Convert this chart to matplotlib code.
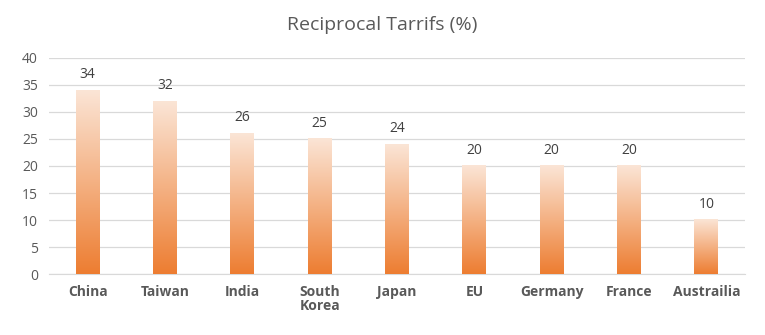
#!/usr/bin/env python3
"""Reciprocal tariffs bar chart with gradient bars."""

import matplotlib

matplotlib.use("Agg")
import matplotlib.pyplot as plt
import numpy as np
from matplotlib.colors import LinearSegmentedColormap

countries = ["China", "Taiwan", "India", "South\nKorea", "Japan", "EU", "Germany", "France", "Austrailia"]
tariffs = [34, 32, 26, 25, 24, 20, 20, 20, 10]
y_ticks = [0, 5, 10, 15, 20, 25, 30, 35, 40]

plt.rcParams["font.family"] = ["Open Sans", "DejaVu Sans"]
text_color = "#595959"
grad = LinearSegmentedColormap.from_list("orange_grad", ["#ED7D31", "#F4B183", "#FBE5D6"])

fig = plt.figure(figsize=(7.65, 3.35), dpi=100)
ax = fig.add_axes([0.064, 0.182, 0.91, 0.645])

x = np.arange(len(countries))
width = 0.31
bars = ax.bar(x, tariffs, width=width, color="none", edgecolor="none", zorder=3)

# each bar gets its own vertical gradient, dark at the base
g = np.linspace(0, 1, 256).reshape(-1, 1)
for bar in bars:
    bx, by = bar.get_x(), bar.get_y()
    bw, bh = bar.get_width(), bar.get_height()
    ax.imshow(g, cmap=grad, origin="lower", aspect="auto", interpolation="bilinear",
              extent=(bx, bx + bw, by, by + bh), zorder=5)
    ax.text(bx + bw / 2, by + bh + 1.5, f"{int(bh)}", ha="center", va="bottom",
            fontsize=10, color="#404040")

ax.set_xlim(-0.5, len(countries) - 0.5)
ax.set_ylim(0, 40)
ax.set_yticks(y_ticks)
ax.set_xticks(x)
ax.set_xticklabels(countries, fontsize=10, fontweight="bold", color=text_color, linespacing=1.0)
ax.tick_params(axis="y", labelsize=10, labelcolor=text_color, length=0, pad=8)
ax.tick_params(axis="x", length=0, pad=8)
ax.grid(axis="y", color="#D9D9D9", linewidth=0.9)
for line in ax.get_ygridlines():
    line.set_zorder(1)
for side in ["top", "right", "left"]:
    ax.spines[side].set_visible(False)
ax.spines["bottom"].set_color("#D9D9D9")
ax.spines["bottom"].set_zorder(1)

fig.text(0.5, 0.925, "Reciprocal Tarrifs (%)", ha="center", va="center",
         fontsize=14, color=text_color)

fig.savefig("out.png", dpi=100)
